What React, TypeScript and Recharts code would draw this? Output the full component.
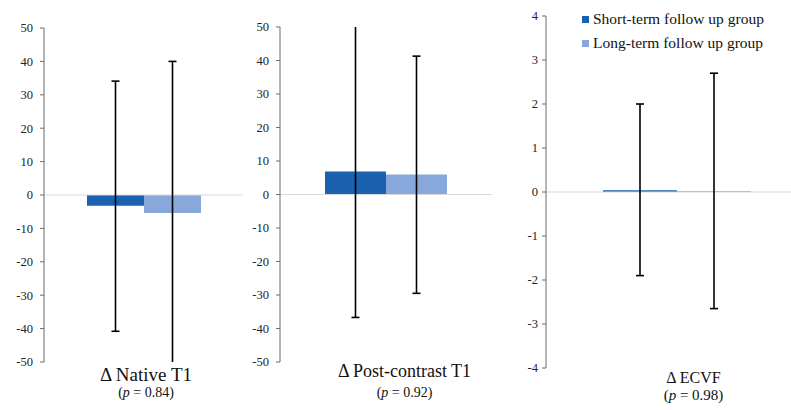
import React from "react";
import { BarChart, Bar, XAxis, YAxis, ErrorBar, ReferenceLine, Legend } from "recharts";

const categories = ["\u0394 Native T1", "\u0394 Post-contrast T1", "\u0394 ECVF"];
const pValues = ["0.84", "0.92", "0.98"];
const seriesNames = ["Short-term follow up group", "Long-term follow up group"];
const shortMeans = [-3.2, 6.9, 0.04];
const longMeans = [-5.4, 6.0, 0.02];
const shortLow = [-40.8, -36.7, -1.9];
const shortHigh = [34.1, 53, 2.0];
const longLow = [-53, -29.5, -2.65];
const longHigh = [40.0, 41.3, 2.7];
const ticksT1 = [-50, -40, -30, -20, -10, 0, 10, 20, 30, 40, 50];
const ticksECV = [-4, -3, -2, -1, 0, 1, 2, 3, 4];

const SHORT = "#1A61B0";
const LONG = "#88A7DB";
const FONT = "Liberation Serif";

const panels = [
  { left: 0, width: 243, top: 28, xh: 48, barSize: 57, domain: [-50, 50], ticks: ticksT1, dx: 2.5, ls: 19, ps: 14, ly: 19, py: 35, tm: 7, legend: false },
  { left: 236, width: 256, top: 27, xh: 48, barSize: 61, domain: [-50, 50], ticks: ticksT1, dx: 18.5, ls: 18, ps: 14, ly: 15, py: 35, tm: 7, legend: false },
  { left: 502, width: 305, top: 16, xh: 42, barSize: 74, domain: [-4, 4], ticks: ticksECV, dx: 17, ls: 16, ps: 15, ly: 15, py: 32, tm: 4, legend: true },
];

function makeData(i: number) {
  return [
    {
      name: categories[i],
      p: pValues[i],
      short: shortMeans[i],
      long: longMeans[i],
      shortErr: [shortMeans[i] - shortLow[i], shortHigh[i] - shortMeans[i]],
      longErr: [longMeans[i] - longLow[i], longHigh[i] - longMeans[i]],
    },
  ];
}

function LegendContent(props: any) {
  const payload = [...(props.payload || [])].sort(
    (a: any, b: any) => seriesNames.indexOf(a.value) - seriesNames.indexOf(b.value)
  );
  return (
    <div style={{ fontFamily: FONT, fontSize: 15.5, color: "#111" }}>
      {payload.map((e: any, k: number) => (
        <div key={k} style={{ display: "flex", alignItems: "center", height: 24, whiteSpace: "nowrap" }}>
          <span style={{ display: "inline-block", width: 7, height: 7, background: e.color, marginRight: 4 }} />
          <span>{e.value}</span>
        </div>
      ))}
    </div>
  );
}

function Panel({ i }: { i: number }) {
  const c = panels[i];
  const data = makeData(i);
  const Tick = (props: any) => {
    const { x, y, payload } = props;
    const p = data[0].p;
    return (
      <g>
        <text x={x + c.dx} y={y + c.ly} textAnchor="middle" fontFamily={FONT} fontSize={c.ls} fill="#111">
          {payload.value}
        </text>
        <text x={x + c.dx} y={y + c.py} textAnchor="middle" fontFamily={FONT} fontSize={c.ps} fill="#111">
          (<tspan fontStyle="italic">p</tspan> = {p})
        </text>
      </g>
    );
  };
  return (
    <div className={`panel${i}`} style={{ position: "absolute", left: c.left, top: 0 }}>
      <BarChart
        width={c.width}
        height={410}
        data={data}
        margin={{ top: c.top, right: 0, bottom: 0, left: 0 }}
        barGap={0}
        barSize={c.barSize}
      >
        <XAxis dataKey="name" axisLine={false} tickLine={false} tickSize={0} tickMargin={0} height={c.xh} tick={<Tick />} />
        <YAxis
          type="number"
          domain={c.domain}
          ticks={c.ticks}
          interval={0}
          allowDataOverflow
          width={44}
          axisLine={{ stroke: "#6b6b6b" }}
          tickLine={{ stroke: "#6b6b6b" }}
          tickSize={4}
          tickMargin={c.tm}
          tick={{ fontFamily: FONT, fontSize: 12.5, fill: "#222" }}
        />
        <ReferenceLine y={0} stroke="#D9D9D9" strokeWidth={1} />
        <Bar dataKey="short" name={seriesNames[0]} fill={SHORT} isAnimationActive={false}>
          <ErrorBar dataKey="shortErr" width={4} stroke="#000" strokeWidth={1.6} />
        </Bar>
        <Bar dataKey="long" name={seriesNames[1]} fill={LONG} isAnimationActive={false}>
          <ErrorBar dataKey="longErr" width={4} stroke="#000" strokeWidth={1.6} />
        </Bar>
        {c.legend ? (
          <Legend
            layout="vertical"
            align="center"
            verticalAlign="middle"
            content={<LegendContent />}
            wrapperStyle={{ top: 7, left: 80, width: 220, height: 50 }}
          />
        ) : null}
      </BarChart>
    </div>
  );
}

export default function App() {
  const css = panels
    .map((c, i) => `.panel${i} .recharts-errorBars { clip-path: url(#ebclip${i}); }`)
    .join("\n");
  return (
    <div style={{ position: "absolute", left: 0, top: 0, width: 791, height: 410, overflow: "hidden", background: "#fff" }}>
      <style>{css}</style>
      <svg width={0} height={0} style={{ position: "absolute" }}>
        <defs>
          {panels.map((c, i) => (
            <clipPath key={i} id={`ebclip${i}`} clipPathUnits="userSpaceOnUse">
              <rect x={0} y={c.top} width={400} height={410 - c.xh - c.top} />
            </clipPath>
          ))}
        </defs>
      </svg>
      <Panel i={0} />
      <Panel i={1} />
      <Panel i={2} />
    </div>
  );
}
